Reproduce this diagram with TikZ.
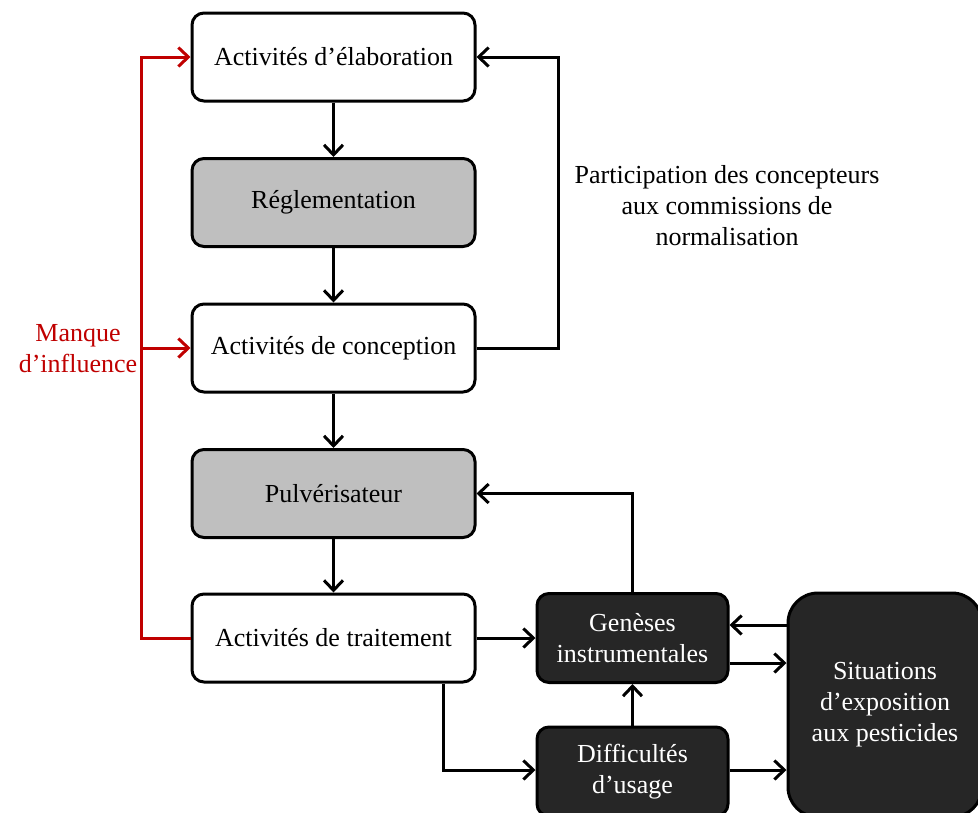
\documentclass[tikz,border=0pt]{standalone}
\usepackage{fontspec}
\setmainfont{Liberation Serif}
\usetikzlibrary{arrows.meta}
\definecolor{darkred}{HTML}{C00000}
\definecolor{lgray}{HTML}{BFBFBF}
\definecolor{dgray}{HTML}{262626}
\tikzset{
  box/.style={draw=black, line width=3pt, rounded corners=12pt, minimum width=283pt, minimum height=88pt, align=center, inner sep=0pt, font=\fontsize{26}{31}\selectfont},
  whitebox/.style={box, fill=white},
  graybox/.style={box, fill=lgray},
  darkbox/.style={box, fill=dgray, text=white, minimum width=191pt},
  arr/.style={line width=3pt, -{Straight Barb[length=10pt,width=19pt]}},
  redline/.style={arr, draw=darkred},
  lbl/.style={align=center, font=\fontsize{26}{31}\selectfont}
}
\begin{document}
\begin{tikzpicture}[x=1pt, y=-1pt]
\useasboundingbox[fill=white] (0,0) rectangle (978,812);
\node[whitebox] (elab) at (333.5,57) {Activités d’élaboration};
\node[graybox] (regl) at (333.5,202.5) {Réglementation};
\node[whitebox] (concep) at (333.5,348) {Activités de conception};
\node[graybox] (pulv) at (333.5,493.5) {Pulvérisateur};
\node[whitebox] (trait) at (333.5,638) {Activités de traitement};
\node[darkbox, minimum height=89pt] (gen) at (632.5,638) {Genèses\\instrumentales};
\node[darkbox, minimum height=89pt] (diff) at (632.5,771.5) {Difficultés\\d’usage};
\node[darkbox, minimum width=194pt, minimum height=224pt, rounded corners=30pt] (sit) at (885,705) {Situations\\d’exposition\\aux pesticides};
\node[lbl] (part) at (727,206) {Participation des concepteurs\\aux commissions de\\normalisation};
\node[lbl, text=darkred] (manque) at (78,349) {Manque\\d’influence};

\draw[arr] (elab) -- (regl);
\draw[arr] (regl) -- (concep);
\draw[arr] (concep) -- (pulv);
\draw[arr] (pulv) -- (trait);
\draw[arr] (concep.east) -- ++(82,0) |- (elab.east);
\draw[arr] (gen.north) |- (pulv.east);
\draw[arr] (trait.east) -- (gen.west);
\draw[arr] ([xshift=109.5pt]trait.south) |- ([yshift=1.5pt]diff.west);
\draw[arr] (diff.north) -- (gen.south);
\draw[arr] ([yshift=13pt]gen.east -| sit.west) -- ([yshift=13pt]gen.east);
\draw[arr] ([yshift=-25pt]gen.east) -- ([yshift=-25pt]gen.east -| sit.west);
\draw[arr] ([yshift=1.5pt]diff.east) -- ([yshift=1.5pt]diff.east -| sit.west);
\draw[redline] (trait.west) -| ([xshift=-49pt]elab.west) -- (elab.west);
\draw[redline] ([xshift=-49pt]concep.west) -- (concep.west);
\end{tikzpicture}
\end{document}
